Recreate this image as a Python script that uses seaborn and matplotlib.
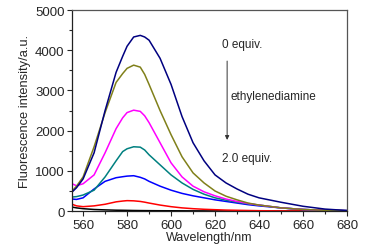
import pandas as pd
import matplotlib
matplotlib.use('Agg')
import matplotlib.pyplot as plt
from matplotlib.ticker import MultipleLocator
import seaborn as sns

# Emission spectra
wavelength = [555, 557, 560, 565, 570, 575, 578, 580, 583, 586, 588, 590, 595, 600,
              605, 610, 615, 620, 625, 630, 635, 640, 650, 660, 670, 680]

navy = [475, 580, 800, 1450, 2500, 3450, 3850, 4100, 4330, 4370, 4330, 4250, 3800, 3150,
        2350, 1700, 1250, 900, 700, 550, 420, 330, 220, 120, 50, 15]
olive = [500, 620, 850, 1600, 2450, 3200, 3420, 3550, 3630, 3580, 3400, 3150, 2500, 1900,
         1350, 950, 700, 500, 370, 280, 200, 150, 80, 40, 20, 10]
magenta = [680, 630, 680, 900, 1450, 2050, 2320, 2450, 2510, 2480, 2370, 2200, 1700, 1200,
           850, 620, 480, 380, 300, 240, 190, 150, 80, 40, 20, 10]
teal = [350, 360, 400, 520, 850, 1250, 1480, 1550, 1600, 1590, 1520, 1400, 1150, 900,
        700, 540, 420, 330, 270, 220, 180, 150, 80, 40, 20, 10]
blue = [300, 290, 330, 550, 740, 830, 855, 870, 880, 840, 800, 740, 620, 520,
        440, 380, 330, 280, 240, 200, 160, 130, 80, 40, 20, 10]
red = [170, 130, 110, 130, 170, 230, 250, 260, 255, 240, 222, 200, 150, 110,
       80, 60, 45, 35, 25, 20, 15, 10, 5, 3, 1, 0]
black = [100, 80, 60, 40, 30, 22, 20, 18, 15, 13, 12, 11, 9, 8,
         7, 6, 5, 5, 4, 4, 3, 3, 2, 2, 1, 1]

series = {'black': black, 'red': red, 'blue': blue, 'teal': teal,
          'magenta': magenta, 'olive': olive, 'navy': navy}
colors = {'black': '#000000', 'red': '#ff0000', 'blue': '#0000ff',
          'teal': '#008080', 'magenta': '#ff00ff', 'olive': '#80801a',
          'navy': '#000080'}

rows = []
for name, vals in series.items():
    for w, v in zip(wavelength, vals):
        rows.append({'wavelength': w, 'intensity': v, 'series': name})
df = pd.DataFrame(rows)

sns.set_style('ticks')
plt.rcParams['font.family'] = ['Liberation Sans', 'DejaVu Sans']

fig = plt.figure(figsize=(3.66, 2.51), dpi=100)
ax = fig.add_axes([0.197, 0.155, 0.751, 0.801])

sns.lineplot(data=df, x='wavelength', y='intensity', hue='series',
             palette=colors, linewidth=1.1, legend=False, ax=ax)

ax.set_xlim(555, 680)
ax.set_ylim(0, 5000)
ax.xaxis.set_major_locator(MultipleLocator(20))
ax.xaxis.set_minor_locator(MultipleLocator(10))
ax.yaxis.set_major_locator(MultipleLocator(1000))
ax.yaxis.set_minor_locator(MultipleLocator(500))
ax.tick_params(which='major', length=3.5, width=0.8, labelsize=9.5, pad=2)
ax.tick_params(which='minor', length=2, width=0.8)

for side in ['top', 'right']:
    ax.spines[side].set_color('#555555')
for side in ['left', 'bottom']:
    ax.spines[side].set_color('#222222')
for sp in ax.spines.values():
    sp.set_linewidth(0.9)

ax.set_xlabel('Wavelength/nm', fontsize=9, labelpad=0)
ax.set_ylabel('Fluorescence intensity/a.u.', fontsize=9.3, labelpad=3)

# annotation: arrow from 0 equiv. down to 2.0 equiv.
ax.text(623, 4150, '0 equiv.', fontsize=8.5, ha='left', va='center')
ax.text(627, 2850, 'ethylenediamine', fontsize=8.5, ha='left', va='center')
ax.text(623, 1330, '2.0 equiv.', fontsize=8.5, ha='left', va='center')
ax.annotate('', xy=(625.5, 1700), xytext=(625.5, 3800),
            arrowprops=dict(arrowstyle='-|>', color='#333333', lw=0.7,
                            mutation_scale=6))

fig.savefig('out.png', dpi=100)
